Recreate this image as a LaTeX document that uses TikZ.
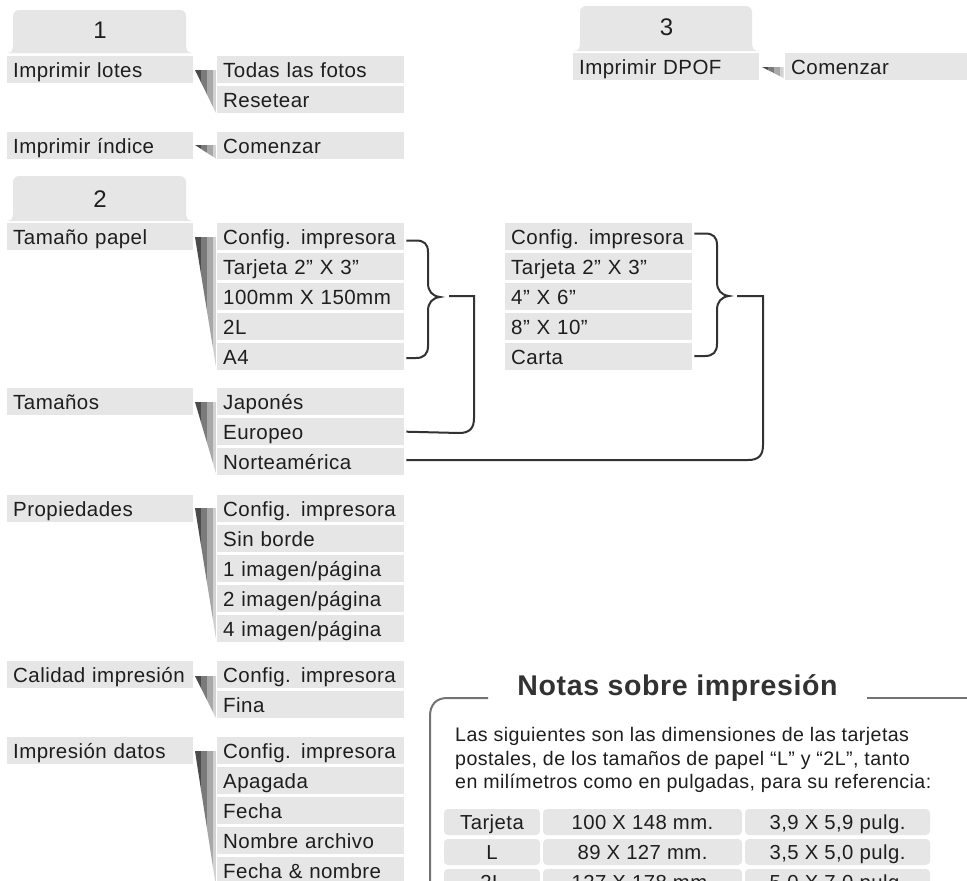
\documentclass[tikz,border=0pt]{standalone}
\usepackage{fontspec}
\setmainfont{Liberation Sans}[LetterSpace=2.2]
\usetikzlibrary{calc}
\definecolor{boxgray}{RGB}{230,230,230}
\definecolor{wA}{RGB}{75,75,75}
\definecolor{wB}{RGB}{122,122,122}
\definecolor{wC}{RGB}{168,168,168}
\definecolor{wD}{RGB}{210,210,210}
\definecolor{txt}{RGB}{30,30,30}
\definecolor{conc}{RGB}{50,50,50}
\definecolor{framec}{RGB}{115,115,115}
\definecolor{headc}{RGB}{50,50,50}
\newcommand{\mwedge}[3]{%
  \begin{scope}
    \clip (#1,#2) -- (#1+21.5,#2) -- (#1+21.5,#3) -- cycle;
    \fill[wA] (#1,#2) rectangle (#1+6,#3);
    \fill[wB] (#1+6,#2) rectangle (#1+12,#3);
    \fill[wC] (#1+12,#2) rectangle (#1+18,#3);
    \fill[wD] (#1+18,#2) rectangle (#1+21.5,#3);
  \end{scope}}
\newcommand{\tabshape}[4]{%
  \fill[boxgray] (#1,#4) .. controls (#1+5,#4) and (#1+6,#4-3) .. (#1+6,#4-9)
    [rounded corners=6pt] -- (#1+6,#3) -- (#2-7,#3) [sharp corners] -- (#2-7,#4-9)
    .. controls (#2-7,#4-3) and (#2-6,#4) .. (#2,#4) -- cycle;}
\tikzset{
  mbox/.style={fill=boxgray, anchor=north west, minimum height=27pt, text width=174pt,
    inner xsep=6pt, inner ysep=0pt, align=left, text height=14.7pt, text depth=0pt,
    text=txt, font=\fontsize{20.5}{24}\selectfont},
  sbox/.style={mbox, text width=175pt},
  tabnum/.style={text=txt, text height=17.2pt, text depth=0pt, inner sep=0pt,
    font=\fontsize{24}{26}\selectfont},
  conn/.style={draw=conc, line width=2pt},
  framel/.style={draw=framec, line width=2pt},
  tcell/.style={fill=boxgray, rounded corners=4pt, minimum height=26pt, inner sep=0pt,
    text height=14.5pt, text depth=0pt, text=txt, font=\fontsize{20.3}{24}\selectfont},
  notetxt/.style={anchor=base west, inner sep=0pt, text=txt, font=\fontsize{19.6}{23}\selectfont},
}
\begin{document}
\begin{tikzpicture}[x=1pt,y=-1pt]
\useasboundingbox (0,0) rectangle (967,881);
\clip (0,0) rectangle (967,881);
\fill[white] (0,0) rectangle (967,881);

% tabs
\tabshape{7}{193}{10}{53}
\node[tabnum] (t1) at (100,30) {1};
\tabshape{7}{193}{176}{221}
\node[tabnum] (t2) at (100,199) {2};
\tabshape{574}{759}{6}{51}
\node[tabnum] (t3) at (666.5,26.7) {3};

% section 1
\node[mbox] (lotes) at (7,56) {Imprimir lotes};
\node[sbox] (todas) at (217,56) {Todas las fotos};
\node[sbox] (reset) at (217,86) {Resetear};
\mwedge{195}{70}{114}
\node[mbox] (indice) at (7,132) {Imprimir índice};
\node[sbox] (comA) at (217,132) {Comenzar};
\mwedge{195}{145}{159}

% section 3
\node[mbox] (dpof) at (573,53) {Imprimir DPOF};
\node[sbox, text width=200pt] (comB) at (785,53) {Comenzar};
\mwedge{762}{67}{78}

% section 2
\node[mbox] (papel) at (7,223) {Tamaño papel};
\node[sbox] (pa) at (217,223) {Config. impresora};
\node[sbox] (pb) at (217,253) {Tarjeta 2” X 3”};
\node[sbox] (pc) at (217,283) {100mm X 150mm};
\node[sbox] (pd) at (217,313) {2L};
\node[sbox] (pe) at (217,343) {A4};
\mwedge{195}{237}{370}

\node[sbox] (qa) at (505,223) {Config. impresora};
\node[sbox] (qb) at (505,253) {Tarjeta 2” X 3”};
\node[sbox] (qc) at (505,283) {4” X 6”};
\node[sbox] (qd) at (505,313) {8” X 10”};
\node[sbox] (qe) at (505,343) {Carta};

\node[mbox] (tam) at (7,388) {Tamaños};
\node[sbox] (jap) at (217,388) {Japonés};
\node[sbox] (eur) at (217,418) {Europeo};
\node[sbox] (nor) at (217,448) {Norteamérica};
\mwedge{195}{402}{475}

\node[mbox] (prop) at (7,495) {Propiedades};
\node[sbox] (ra) at (217,495) {Config. impresora};
\node[sbox] (rb) at (217,525) {Sin borde};
\node[sbox] (rc) at (217,555) {1 imagen/página};
\node[sbox] (rd) at (217,585) {2 imagen/página};
\node[sbox] (re) at (217,615) {4 imagen/página};
\mwedge{195}{508}{642}

\node[mbox] (cal) at (7,661) {Calidad impresión};
\node[sbox] (sa) at (217,661) {Config. impresora};
\node[sbox] (sb) at (217,691) {Fina};
\mwedge{195}{676}{719}

\node[mbox] (dat) at (7,737) {Impresión datos};
\node[sbox] (ua) at (217,737) {Config. impresora};
\node[sbox] (ub) at (217,767) {Apagada};
\node[sbox] (uc) at (217,797) {Fecha};
\node[sbox] (ud) at (217,827) {Nombre archivo};
\node[sbox] (ue) at (217,857) {Fecha \& nombre};
\mwedge{195}{751}{890}

% braces
\draw[conn] ($(pa.east)+(2,4)$) -- (416,240.5) .. controls (424,240.5) and (428,244) .. (428,252)
  -- (428,283) .. controls (428,291) and (432,296) .. (440,297)
  .. controls (432,298) and (428,303) .. (428,311) -- (428,346)
  .. controls (428,354) and (424,358) .. (416,358) -- ($(pe.east)+(2,1.5)$);
\draw[conn] ($(qa.east)+(2,-3)$) -- (705,233.5) .. controls (713,233.5) and (717,237) .. (717,245)
  -- (717,282) .. controls (717,290) and (721,295) .. (729,296)
  .. controls (721,297) and (717,302) .. (717,310) -- (717,344)
  .. controls (717,352) and (713,356) .. (705,356) -- ($(qe.east)+(2,-0.5)$);
\coordinate (c1s) at (449,296);
\coordinate (c2s) at (737,296);
\draw[conn] (c1s) -- (474,296) -- (474,418) .. controls (474,428) and (470,433) .. (459,433) -- ($(eur.east)+(2,0)$);
\draw[conn] (c2s) -- (763,296) -- (763,445) .. controls (763,455) and (759,460) .. (748,460) -- ($(nor.east)+(2,-1.5)$);

% notes
\node[text=headc, inner sep=0pt, text height=20.5pt, text depth=0pt,
  font=\bfseries\fontsize{28.5}{30}\selectfont] (notes) at (677.5,685) {Notas sobre impresión};
\draw[framel] (430,890) -- (430,716) .. controls (430,705) and (436,698) .. (447,698) -- (488,698);
\draw[framel] (867,698) -- (970,698);
\node[notetxt] (n1) at (455,741.7) {Las siguientes son las dimensiones de las tarjetas};
\node[notetxt] (n2) at (455,765) {postales, de los tamaños de papel “L” y “2L”, tanto};
\node[notetxt] (n3) at (455,788.3) {en milímetros como en pulgadas, para su referencia:};

\node[tcell, minimum width=96pt] (a1) at (492,822) {Tarjeta};
\node[tcell, minimum width=199pt] (a2) at (642.5,822) {100 X 148 mm.};
\node[tcell, minimum width=185pt] (a3) at (837.5,822) {3,9 X 5,9 pulg.};
\node[tcell, minimum width=96pt] (b1) at (492,852) {L};
\node[tcell, minimum width=199pt] (b2) at (642.5,852) {89 X 127 mm.};
\node[tcell, minimum width=185pt] (b3) at (837.5,852) {3,5 X 5,0 pulg.};
\node[tcell, minimum width=96pt] (c1) at (492,882) {2L};
\node[tcell, minimum width=199pt] (c2) at (642.5,882) {127 X 178 mm.};
\node[tcell, minimum width=185pt] (c3) at (837.5,882) {5,0 X 7,0 pulg.};
\end{tikzpicture}
\end{document}
